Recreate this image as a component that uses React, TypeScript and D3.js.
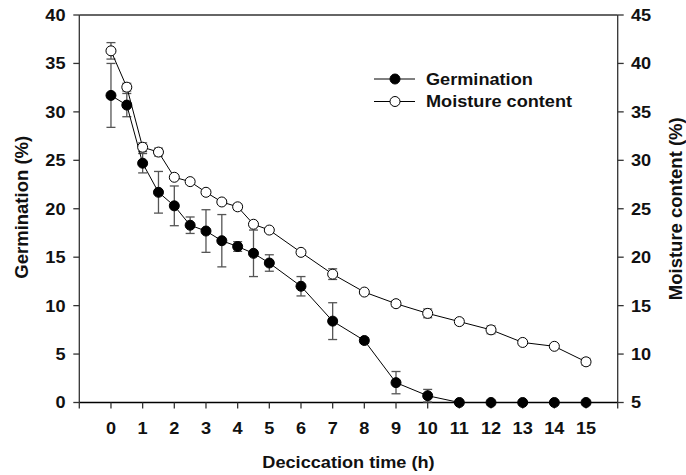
import React from "react";
import * as d3 from "d3";

const times = [0, 0.5, 1, 1.5, 2, 2.5, 3, 3.5, 4, 4.5, 5, 6, 7, 8, 9, 10, 11, 12, 13, 14, 15];
const germination = [31.7, 30.7, 24.7, 21.7, 20.3, 18.3, 17.7, 16.7, 16.1, 15.4, 14.4, 12.0, 8.4, 6.4, 2.05, 0.7, 0, 0, 0, 0, 0];
const germinationErr = [3.3, 1.2, 1.0, 2.15, 2.05, 0.85, 2.2, 2.7, 0.5, 2.4, 0.85, 1.0, 1.9, 0.3, 1.15, 0.65, 0, 0, 0, 0, 0];
const moisture = [41.3, 37.55, 31.35, 30.85, 28.25, 27.8, 26.7, 25.7, 25.2, 23.4, 22.8, 20.5, 18.25, 16.4, 15.2, 14.2, 13.35, 12.5, 11.2, 10.8, 9.2];
const moistureErr = [0.85, 0.4, 0.45, 0.4, 0.2, 0.2, 0.2, 0.2, 0.3, 0.25, 0.2, 0.2, 0.55, 0.2, 0.3, 0.45, 0.3, 0.4, 0.2, 0.2, 0.35];
const xTicks = d3.range(-1, 17);
const xLabels = d3.range(0, 16);
const leftTicks = [0, 5, 10, 15, 20, 25, 30, 35, 40];
const rightTicks = [5, 10, 15, 20, 25, 30, 35, 40, 45];
const legendLabels = ["Germination", "Moisture content"];

const W = 686;
const H = 475;
const FONT = "'Liberation Sans', Arial, sans-serif";
const SX = 1.1;

function SText(props: { x: number; y: number; anchor?: string; size: number; dy?: string; children: React.ReactNode }) {
  const { x, y, anchor, size, dy, children } = props;
  return (
    <g transform={`translate(${x},${y}) scale(${SX},1)`}>
      <text x={0} y={0} dy={dy} textAnchor={anchor || "start"} fontSize={size} fill="#111">
        {children}
      </text>
    </g>
  );
}

export default function App() {
  const x = d3.scaleLinear().domain([-1, 16]).range([79.3, 617.7]);
  const yL = d3.scaleLinear().domain([0, 40]).range([402.5, 15]);
  const yR = d3.scaleLinear().domain([5, 45]).range([402.5, 15]);
  const [x0, x1] = x.range();
  const [yb, yt] = yL.range();

  const lineG = d3.line<number>().x((_, i) => x(times[i])).y((v) => yL(v));
  const lineM = d3.line<number>().x((_, i) => x(times[i])).y((v) => yR(v));

  const axisColor = "#333";
  const errColor = "#555";
  const r = 5;
  const cap = 4.5;

  return (
    <svg width={W} height={H} style={{ position: "absolute", left: 0, top: 0, background: "#fff" }} fontFamily={FONT} fontWeight="bold">
      <rect width={W} height={H} fill="#fff" />
      {/* frame */}
      <line x1={x0} x2={x1} y1={yt} y2={yt} stroke={axisColor} strokeWidth={1.3} />
      <line x1={x0} x2={x0} y1={yt} y2={yb} stroke={axisColor} strokeWidth={1.3} />
      <line x1={x1} x2={x1} y1={yt} y2={yb} stroke={axisColor} strokeWidth={1.3} />
      <line x1={x0} x2={x1} y1={yb} y2={yb} stroke="#000" strokeWidth={1.5} />
      {/* x ticks */}
      {xTicks.map((t) => (
        <line key={"xt" + t} x1={x(t)} x2={x(t)} y1={yb} y2={yb + 6} stroke={axisColor} strokeWidth={1.3} />
      ))}
      {xLabels.map((t) => (
        <SText key={"xl" + t} x={x(t)} y={434} anchor="middle" size={16.5}>
          {t}
        </SText>
      ))}
      {/* left ticks */}
      {leftTicks.map((v) => (
        <g key={"lt" + v}>
          <line x1={x0 - 6} x2={x0} y1={yL(v)} y2={yL(v)} stroke={axisColor} strokeWidth={1.3} />
          <SText x={65.5} y={yL(v)} dy="0.36em" anchor="end" size={16.5}>
            {v}
          </SText>
        </g>
      ))}
      {/* right ticks */}
      {rightTicks.map((v) => (
        <g key={"rt" + v}>
          <line x1={x1} x2={x1 + 6} y1={yR(v)} y2={yR(v)} stroke={axisColor} strokeWidth={1.3} />
          <SText x={631} y={yR(v)} dy="0.36em" anchor="start" size={16.5}>
            {v}
          </SText>
        </g>
      ))}
      {/* axis titles */}
      <SText x={(x0 + x1) / 2} y={468} anchor="middle" size={16.5}>
        Deciccation time (h)
      </SText>
      <text transform={`translate(28,${(yb + yt) / 2 - 1.5}) rotate(-90)`} textAnchor="middle" fontSize={18.5} fill="#111">
        Germination (%)
      </text>
      <text transform={`translate(682,${(yb + yt) / 2}) rotate(-90)`} textAnchor="middle" fontSize={18.5} fill="#111">
        Moisture content (%)
      </text>
      {/* error bars */}
      {moisture.map((v, i) =>
        moistureErr[i] > 0 ? (
          <g key={"me" + i} stroke={errColor} strokeWidth={1.3}>
            <line x1={x(times[i])} x2={x(times[i])} y1={yR(v + moistureErr[i])} y2={yR(v - moistureErr[i])} />
            <line x1={x(times[i]) - cap} x2={x(times[i]) + cap} y1={yR(v + moistureErr[i])} y2={yR(v + moistureErr[i])} />
            <line x1={x(times[i]) - cap} x2={x(times[i]) + cap} y1={yR(v - moistureErr[i])} y2={yR(v - moistureErr[i])} />
          </g>
        ) : null
      )}
      {germination.map((v, i) =>
        germinationErr[i] > 0 ? (
          <g key={"ge" + i} stroke={errColor} strokeWidth={1.3}>
            <line x1={x(times[i])} x2={x(times[i])} y1={yL(v + germinationErr[i])} y2={yL(Math.max(0, v - germinationErr[i]))} />
            <line x1={x(times[i]) - cap} x2={x(times[i]) + cap} y1={yL(v + germinationErr[i])} y2={yL(v + germinationErr[i])} />
            <line x1={x(times[i]) - cap} x2={x(times[i]) + cap} y1={yL(Math.max(0, v - germinationErr[i]))} y2={yL(Math.max(0, v - germinationErr[i]))} />
          </g>
        ) : null
      )}
      {/* lines */}
      <path d={lineM(moisture) || ""} fill="none" stroke="#000" strokeWidth={1} />
      <path d={lineG(germination) || ""} fill="none" stroke="#000" strokeWidth={1} />
      {moisture.map((v, i) => (
        <circle key={"mc" + i} cx={x(times[i])} cy={yR(v)} r={r} fill="#fff" stroke="#000" strokeWidth={1} />
      ))}
      {germination.map((v, i) => (
        <circle key={"gc" + i} cx={x(times[i])} cy={yL(v)} r={r} fill="#000" stroke="#000" strokeWidth={1} />
      ))}
      {/* legend */}
      {legendLabels.map((lab, i) => {
        const ly = 79 + i * 22.5;
        return (
          <g key={"lg" + lab}>
            <line x1={374} x2={415} y1={ly} y2={ly} stroke="#000" strokeWidth={1} />
            <circle cx={395} cy={ly} r={r} fill={i === 0 ? "#000" : "#fff"} stroke="#000" strokeWidth={1} />
            <SText x={426} y={ly} dy="0.36em" size={16.5}>
              {lab}
            </SText>
          </g>
        );
      })}
    </svg>
  );
}
